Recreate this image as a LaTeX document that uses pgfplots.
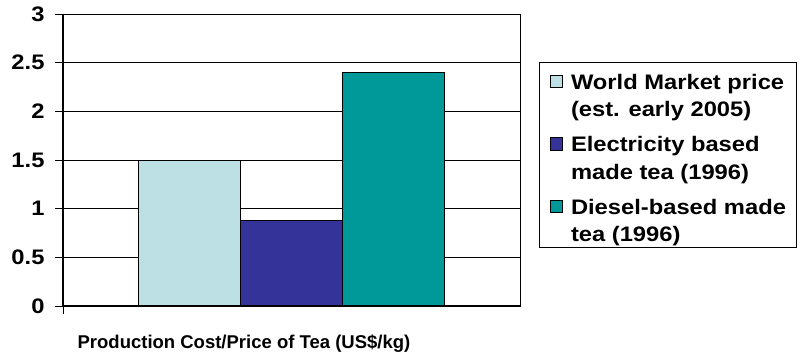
\documentclass[border=0pt]{standalone}
\usepackage{fontspec}
\setmainfont{Liberation Sans}
\newfontfamily\widebold[FakeStretch=1.13]{Liberation Sans Bold}
\usepackage{pgfplots}
\pgfplotsset{compat=1.18}

\definecolor{worldcol}{RGB}{189,224,228}
\definecolor{eleccol}{RGB}{51,51,153}
\definecolor{dieselcol}{RGB}{0,153,153}

\begin{document}
\begin{tikzpicture}
\path (0,0) rectangle (801pt,360pt);
\begin{axis}[
  at={(63pt,54pt)}, anchor=south west,
  width=457pt, height=292pt, scale only axis,
  clip=false,
  xmin=-2.24, xmax=2.24,
  ymin=0, ymax=3,
  ytick={0,0.5,1,1.5,2,2.5,3},
  yticklabels={0,0.5,1,1.5,2,2.5,3},
  xtick={-2.24}, xticklabels={},
  xtick pos=bottom, ytick pos=left,
  tick align=outside,
  major tick length=8pt,
  tick style={black, line width=0.8pt},
  ymajorgrids,
  grid style={black, line width=0.8pt},
  axis line style={black, line width=0.8pt},
  /pgf/number format/assume math mode=true,
  ticklabel style={font=\widebold\fontsize{21}{25}\selectfont},
  yticklabel style={xshift=-7pt},
  xlabel={Production Cost/Price of Tea (US\$/kg)},
  xlabel style={at={(axis description cs:0.396,-0.145)}, anchor=base,
    font=\fontsize{18.5}{22}\selectfont\bfseries},
  ybar, bar width=1, bar shift=0pt,
  area legend,
  legend image code/.code={
    \draw[#1, draw=black, line width=0.6pt] (0pt,29.5pt) rectangle (12.5pt,42pt);
  },
  legend style={
    at={(axis description cs:1.0416,0.8356)}, anchor=north west,
    draw=black, line width=0.8pt,
    inner xsep=10.5pt, inner ysep=4pt,
    font=\widebold\fontsize{21}{27.5}\selectfont,
    nodes={align=left, anchor=base west, inner sep=0pt},
    row sep=18.3pt, column sep=8pt,
  },
  legend cell align=left,
]
\addplot[fill=worldcol, draw=black, line width=0.6pt] coordinates {(-1,1.5)};
\addlegendentry{\rule{0pt}{23pt}World Market price\\(est. early 2005)}
\addplot[fill=eleccol, draw=black, line width=0.6pt] coordinates {(0,0.88)};
\addlegendentry{Electricity based\\made tea (1996)}
\addplot[fill=dieselcol, draw=black, line width=0.6pt] coordinates {(1,2.4)};
\addlegendentry{Diesel-based made\\tea (1996)}
% heavier left and bottom axis lines
\draw[black, line width=2pt] (rel axis cs:0,1) -- (rel axis cs:0,0) -- (rel axis cs:1,0);
\end{axis}
\end{tikzpicture}
\end{document}
